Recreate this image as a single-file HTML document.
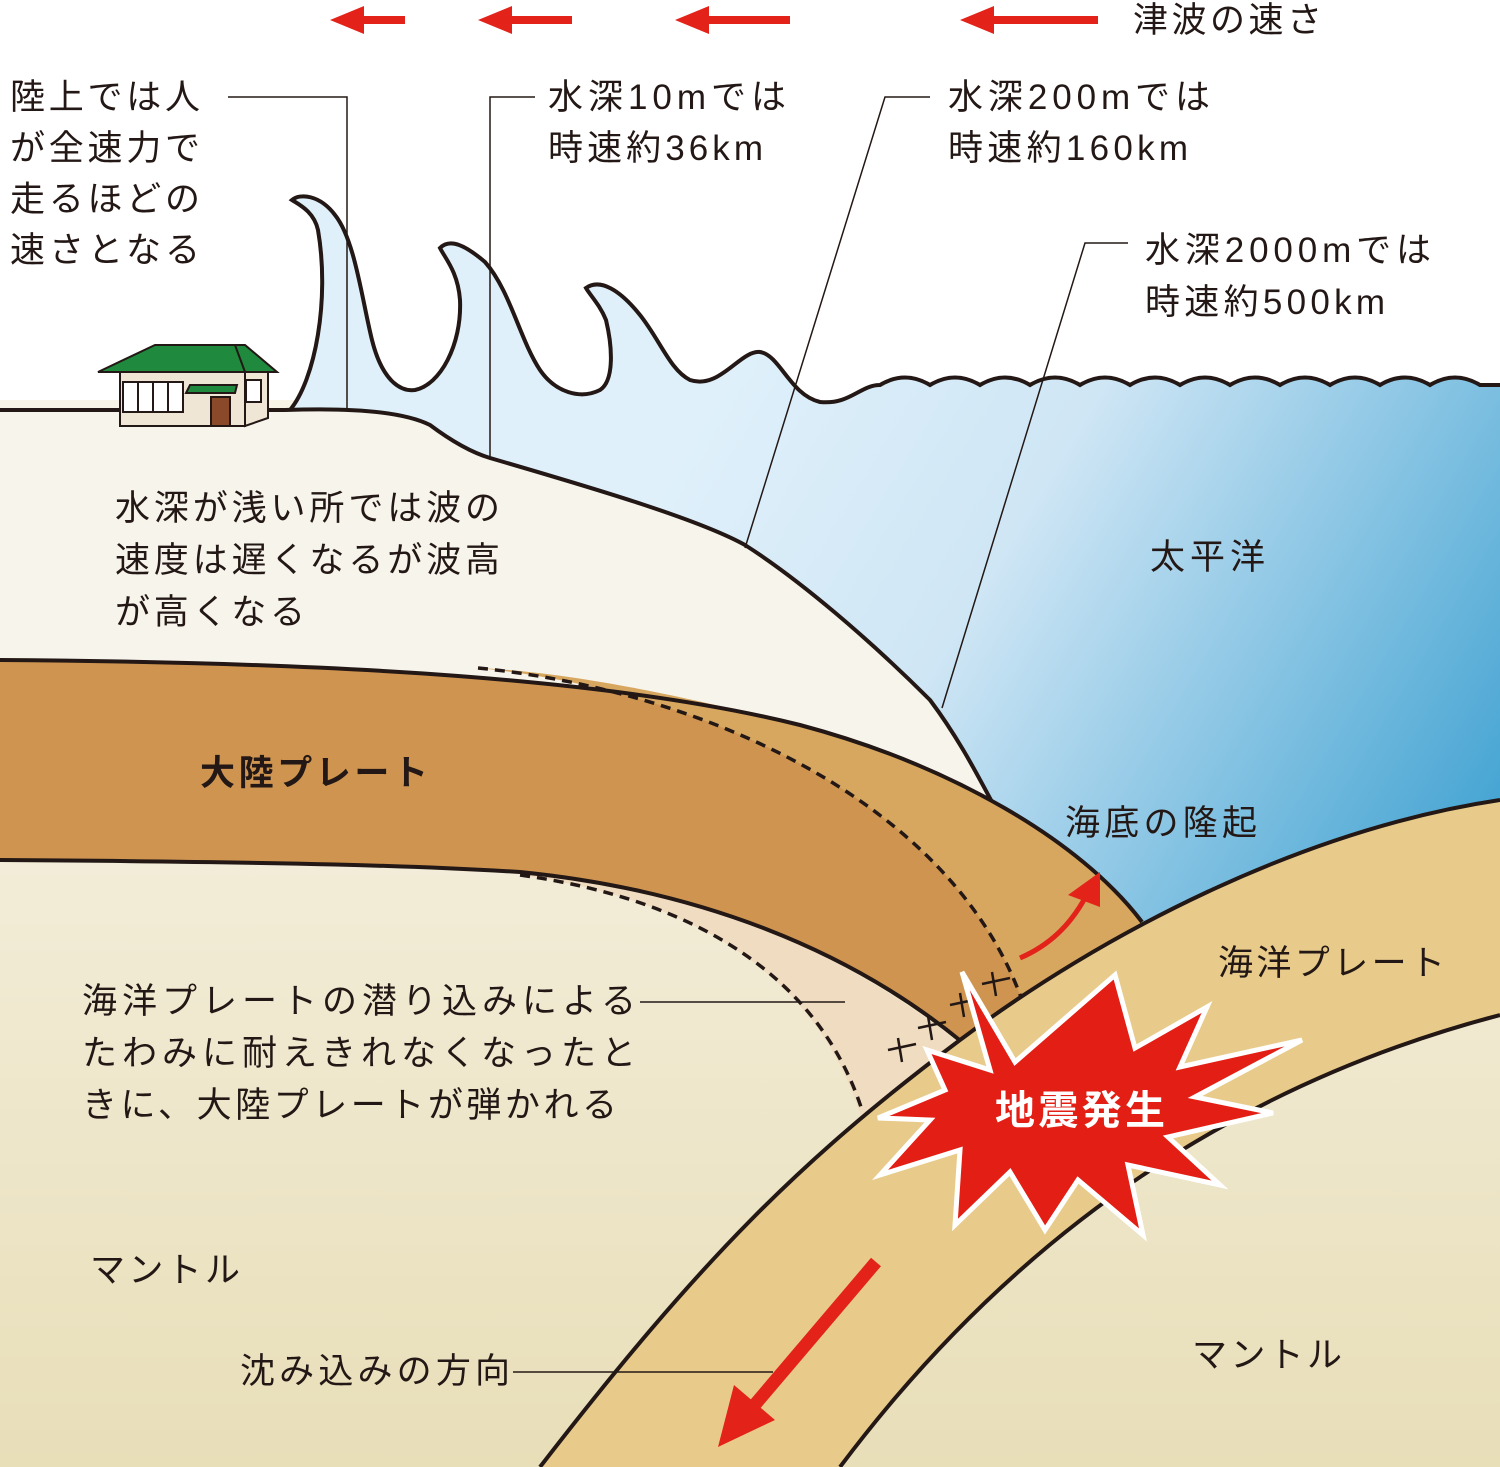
<!DOCTYPE html>
<html><head><meta charset="utf-8"><style>
html,body{margin:0;padding:0;background:#fff}
svg{display:block}
text{font-family:"Liberation Sans","Noto Sans CJK JP",sans-serif;fill:#231815}
</style></head><body>
<svg width="1500" height="1467" viewBox="0 0 1500 1467" xmlns="http://www.w3.org/2000/svg">
<defs>
<linearGradient id="mantle" x1="0" y1="600" x2="0" y2="1467" gradientUnits="userSpaceOnUse">
<stop offset="0" stop-color="#f7f3e6"/><stop offset="1" stop-color="#e8deb8"/></linearGradient>
<linearGradient id="water" x1="700" y1="420" x2="1500" y2="900" gradientUnits="userSpaceOnUse">
<stop offset="0" stop-color="#dff0fa"/><stop offset="0.35" stop-color="#cfe6f5"/><stop offset="1" stop-color="#3a9fd0"/></linearGradient>
</defs>
<rect width="1500" height="1467" fill="#fff"/>
<rect y="400" width="1500" height="1067" fill="url(#mantle)"/>
<!-- water -->
<path d="M290,410 C315,380 330,300 318,230 C314,212 300,205 292,200 C300,193 320,195 335,215 C355,240 362,300 372,340 C382,380 400,392 415,390 C440,385 462,345 460,300 C458,272 445,258 440,248 C450,238 465,245 485,262 C510,290 520,340 540,370 C555,392 580,400 600,390 C615,380 612,345 606,320 C600,305 590,295 586,288 C600,278 620,290 640,315 C660,340 670,370 690,380 C720,390 740,350 760,352 C780,355 790,395 820,402 C850,405 860,385 880,385 q25,-15 50,0 q25,-15 50,0 q25,-15 50,0 q25,-15 50,0 q25,-15 50,0 q25,-15 50,0 q25,-15 50,0 q25,-15 50,0 q25,-15 50,0 q25,-15 50,0 q25,-15 50,0 q25,-15 50,0 L1500,385 L1500,1000 L1100,1000 L1000,850 L290,850 Z" fill="url(#water)"/>
<path d="M290,410 C315,380 330,300 318,230 C314,212 300,205 292,200 C300,193 320,195 335,215 C355,240 362,300 372,340 C382,380 400,392 415,390 C440,385 462,345 460,300 C458,272 445,258 440,248 C450,238 465,245 485,262 C510,290 520,340 540,370 C555,392 580,400 600,390 C615,380 612,345 606,320 C600,305 590,295 586,288 C600,278 620,290 640,315 C660,340 670,370 690,380 C720,390 740,350 760,352 C780,355 790,395 820,402 C850,405 860,385 880,385 q25,-15 50,0 q25,-15 50,0 q25,-15 50,0 q25,-15 50,0 q25,-15 50,0 q25,-15 50,0 q25,-15 50,0 q25,-15 50,0 q25,-15 50,0 q25,-15 50,0 q25,-15 50,0 q25,-15 50,0 L1500,385" fill="none" stroke="#231815" stroke-width="4"/>
<!-- land -->
<path d="M0,410 L285,410 C340,408 400,410 430,425 C450,440 470,452 490,458 C600,490 700,520 745,545 C800,580 870,640 930,700 C960,740 980,780 990,800 L1000,860 L0,860 Z" fill="#f7f4ec"/>
<path d="M0,410 L285,410 C340,408 400,410 430,425 C450,440 470,452 490,458 C600,490 700,520 745,545 C800,580 870,640 930,700 C960,740 980,780 992,802" fill="none" stroke="#231815" stroke-width="4"/>
<!-- peach -->
<path d="M520,872 C700,890 850,950 980,1060 L862,1120 C820,980 700,900 520,875 Z" fill="#f0dcc0"/>
<!-- continental plate -->
<path d="M0,660 C300,662 600,675 800,725 C950,765 1080,840 1140,920 L1170,960 L962,1042 C850,950 700,890 520,872 C420,866 300,862 0,860 Z" fill="#cf9550"/>
<path d="M478,668 C700,690 950,800 1022,1000 L1040,1030 L1170,960 L1140,920 C1080,840 950,765 800,725 C650,688 560,672 478,668 Z" fill="#d7a760"/>
<path d="M0,660 C300,662 600,675 800,725 C950,765 1080,840 1142,922" fill="none" stroke="#231815" stroke-width="4"/>
<path d="M0,860 C300,862 420,866 520,872 C700,890 850,950 962,1042" fill="none" stroke="#231815" stroke-width="4"/>
<path d="M478,668 C700,690 950,800 1022,1000" fill="none" stroke="#231815" stroke-width="3.5" stroke-dasharray="10,7"/>
<path d="M520,875 C700,900 820,980 862,1110" fill="none" stroke="#231815" stroke-width="3.5" stroke-dasharray="10,7"/>
<!-- oceanic plate -->
<path d="M540,1467 C700,1260 800,1160 960,1040 C1100,935 1300,830 1500,800 L1500,1015 Q1100,1120 840,1467 Z" fill="#e8cb8a"/>
<path d="M840,1467 Q1100,1120 1500,1015 L1500,1467 Z" fill="url(#mantle)"/>
<path d="M540,1467 C700,1260 800,1160 960,1040 C1100,935 1300,830 1500,800" fill="none" stroke="#231815" stroke-width="4"/>
<path d="M840,1467 Q1100,1120 1500,1015" fill="none" stroke="#231815" stroke-width="4"/>
<!-- crosses -->
<g stroke="#231815" stroke-width="2.5">
<path d="M888,1050 l28,-6 M898,1038 l4,24"/>
<path d="M918,1028 l28,-6 M928,1016 l4,24"/>
<path d="M950,1005 l28,-6 M960,993 l4,24"/>
<path d="M982,984 l28,-6 M992,972 l4,24"/>
</g>
<!-- house -->
<g stroke="#231815" stroke-width="2">
<rect x="120" y="372" width="125" height="54" fill="#f0e6d5"/>
<polygon points="245,372 268,372 268,418 245,426" fill="#f0e6d5"/>
<polygon points="98,372 155,345 245,345 277,372" fill="#1f8a3d"/>
<line x1="235" y1="345" x2="245" y2="372"/>
<rect x="123" y="382" width="60" height="30" fill="#fff"/>
<line x1="138" y1="382" x2="138" y2="412"/><line x1="153" y1="382" x2="153" y2="412"/><line x1="168" y1="382" x2="168" y2="412"/>
<polygon points="190,385 237,385 235,393 186,393" fill="#1f8a3d"/>
<rect x="211" y="397" width="19" height="29" fill="#8a4a2a"/>
<rect x="246" y="380" width="15" height="22" fill="#fff"/>
</g>
<!-- leader lines -->
<g stroke="#231815" stroke-width="1.5" fill="none">
<polyline points="228,97 347,97 347,410"/>
<polyline points="535,97 490,97 490,458"/>
<polyline points="930,97 885,97 745,548"/>
<polyline points="1128,243 1085,243 942,708"/>
<line x1="640" y1="1002" x2="845" y2="1002"/>
<line x1="513" y1="1372" x2="773" y2="1372"/>
</g>
<!-- top arrows -->
<g fill="#e3231a">
<path d="M330,20 l34,-14 v10 h41 v8 h-41 v10 z"/>
<path d="M478,20 l34,-14 v10 h60 v8 h-60 v10 z"/>
<path d="M675,20 l34,-14 v10 h81 v8 h-81 v10 z"/>
<path d="M960,20 l34,-14 v10 h104 v8 h-104 v10 z"/>
</g>
<!-- small curved arrow -->
<path d="M1020,958 C1050,945 1070,925 1085,898" fill="none" stroke="#e3231a" stroke-width="5"/>
<polygon points="1068,895 1100,872 1100,907" fill="#e3231a"/>
<!-- big arrow -->
<line x1="876" y1="1262" x2="752" y2="1408" stroke="#e3231a" stroke-width="13"/>
<polygon points="718,1447 734,1385 775,1420" fill="#e3231a"/>
<!-- star -->
<polygon points="962,972 1015,1062 1115,975 1135,1048 1207,1007 1180,1067 1302,1040 1195,1097 1273,1113 1168,1137 1220,1185 1128,1165 1143,1235 1078,1180 1045,1230 1010,1172 955,1225 960,1150 880,1175 930,1120 878,1118 945,1090 927,1050 990,1070" fill="#e31e14" stroke="#fff" stroke-width="5" stroke-linejoin="miter"/>
<!-- texts -->
<g font-size="35">
<text x="1133" y="32" textLength="189" lengthAdjust="spacing">津波の速さ</text>
<text x="10" y="109" textLength="190" lengthAdjust="spacing">陸上では人</text>
<text x="10" y="160" textLength="190" lengthAdjust="spacing">が全速力で</text>
<text x="10" y="211" textLength="190" lengthAdjust="spacing">走るほどの</text>
<text x="10" y="262" textLength="190" lengthAdjust="spacing">速さとなる</text>
<text x="548" y="109" textLength="238" lengthAdjust="spacing">水深10mでは</text>
<text x="548" y="160" textLength="215" lengthAdjust="spacing">時速約36km</text>
<text x="948" y="109" textLength="262" lengthAdjust="spacing">水深200mでは</text>
<text x="948" y="160" textLength="240" lengthAdjust="spacing">時速約160km</text>
<text x="1145" y="262" textLength="286" lengthAdjust="spacing">水深2000mでは</text>
<text x="1145" y="314" textLength="240" lengthAdjust="spacing">時速約500km</text>
<text x="115" y="520" textLength="385" lengthAdjust="spacing">水深が浅い所では波の</text>
<text x="115" y="572" textLength="385" lengthAdjust="spacing">速度は遅くなるが波高</text>
<text x="115" y="624" textLength="190" lengthAdjust="spacing">が高くなる</text>
<text x="1150" y="569" textLength="115" lengthAdjust="spacing">太平洋</text>
<text x="200" y="785" textLength="228" lengthAdjust="spacing" font-weight="bold">大陸プレート</text>
<text x="1065" y="835" textLength="192" lengthAdjust="spacing">海底の隆起</text>
<text x="1218" y="975" textLength="227" lengthAdjust="spacing">海洋プレート</text>
<text x="82" y="1013" textLength="554" lengthAdjust="spacing">海洋プレートの潜り込みによる</text>
<text x="82" y="1065" textLength="554" lengthAdjust="spacing">たわみに耐えきれなくなったと</text>
<text x="82" y="1117" textLength="535" lengthAdjust="spacing">きに、大陸プレートが弾かれる</text>
<text x="90" y="1282" textLength="150" lengthAdjust="spacing">マントル</text>
<text x="1192" y="1367" textLength="150" lengthAdjust="spacing">マントル</text>
<text x="240" y="1383" textLength="270" lengthAdjust="spacing">沈み込みの方向</text>
</g>
<text x="995" y="1124" font-size="40" font-weight="bold" style="fill:#fff" textLength="170" lengthAdjust="spacing">地震発生</text>
</svg>
</body></html>
